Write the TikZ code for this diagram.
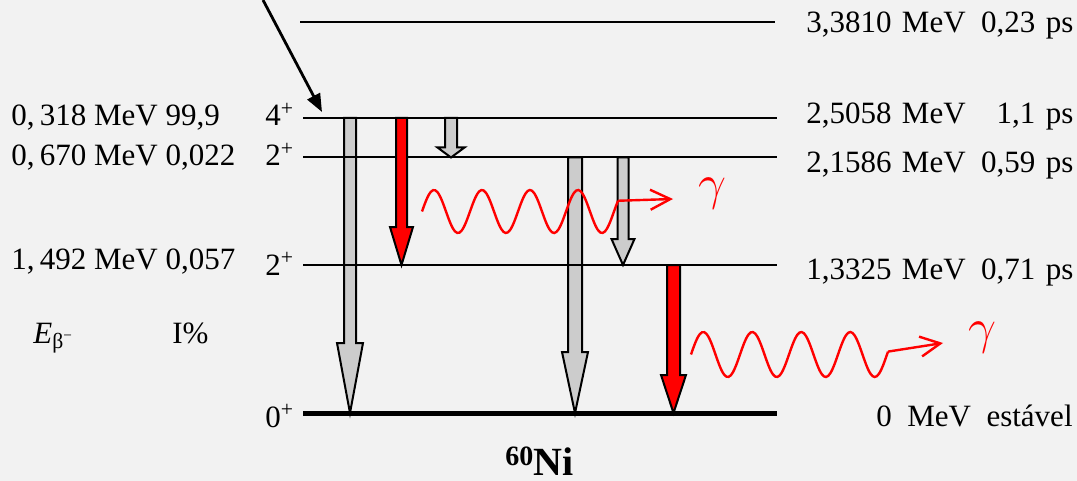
\documentclass[tikz,border=0pt]{standalone}
\usepackage{fontspec}
\setmainfont{Liberation Serif}
\usepackage{tikz}
\usetikzlibrary{arrows.meta, calc}
\definecolor{cBack}{RGB}{242,242,242}
\definecolor{cGrey}{RGB}{204,204,204}
\definecolor{cRed}{RGB}{255,0,0}
\tikzset{
	level/.style   ={line width=1pt},
	ground/.style  ={line width=2.5pt},
	transit/.style ={line width=1pt, line join=miter},
	wave/.style    ={cRed, line width=1.2pt},
	emit/.style    ={cRed, line width=1.2pt, -{Straight Barb[length=10pt, width=10pt]}},
	lbl/.style     ={anchor=base west, inner sep=0pt},
	gam/.style     ={cRed, inner sep=0pt, font=\fontsize{24}{26}\selectfont},
}
% block arrow: fill, top, bottom, shaft half width, head half width, head length
\newcommand{\decayarrow}[6]{%
	\filldraw[transit, fill=#1] let \p1=(#2), \p2=(#3) in
		(\x1-#4,\y1) -- (\x1-#4,\y2+#6) -- (\x1-#5,\y2+#6) -- (\x2,\y2)
		-- (\x1+#5,\y2+#6) -- (\x1+#4,\y2+#6) -- (\x1+#4,\y1) -- cycle;
}

\begin{document}
\begin{tikzpicture}[x=0.5pt, y=-0.5pt, font=\fontsize{15.5}{18}\selectfont]
	\fill[cBack] (0,0) rectangle (1077,481);
	\useasboundingbox (0,0) rectangle (1077,481);
	% arrow ends
	\coordinate (g1t) at (350,118);   \coordinate (g1b) at (350,413);
	\coordinate (g2t) at (575,157.5); \coordinate (g2b) at (575,413);
	\coordinate (g3t) at (451,118);   \coordinate (g3b) at (451,157.5);
	\coordinate (g4t) at (623,157.5); \coordinate (g4b) at (623,265);
	\coordinate (r1t) at (401.5,118); \coordinate (r1b) at (401.5,265);
	\coordinate (r2t) at (673.5,265); \coordinate (r2b) at (673.5,413);
	\decayarrow{cGrey}{g1t}{g1b}{3pt}{6.5pt}{35pt}
	\decayarrow{cGrey}{g2t}{g2b}{3.5pt}{6.5pt}{30.5pt}
	\decayarrow{cGrey}{g3t}{g3b}{3pt}{6.75pt}{5pt}
	\decayarrow{cGrey}{g4t}{g4b}{2.75pt}{5.75pt}{13pt}
	% levels
	\draw[level] (300,22) -- (775,22);
	\draw[level] (303,118) -- (777,118);
	\draw[level] (303,157.5) -- (777,157.5);
	\draw[level] (303,265) -- (777,265);
	\draw[ground] (303,413) -- (777,413);
	\decayarrow{cRed}{r1t}{r1b}{2.75pt}{5.75pt}{19pt}
	\decayarrow{cRed}{r2t}{r2b}{3.25pt}{6.25pt}{19pt}
	% feeding beta
	\coordinate (src) at (263,0);
	\coordinate (dst) at (322,112);
	\draw[line width=1.4pt, -{Triangle[length=9pt, width=7pt]}] (src) -- (dst);
	% gammas
	\draw[wave] plot[domain=0:196, samples=90, smooth] ({422+\x},{211.5-21.5*sin(7.5*\x)});
	\coordinate (w1end) at (618,200.75);
	\coordinate (w1tip) at (673,199);
	\draw[emit] (w1end) -- (w1tip);
	\node[gam] (gam1) at (712,194) {$\gamma$};
	\draw[wave] plot[domain=0:197, samples=90, smooth] ({691+\x},{354.5-22.5*sin(7.347*\x)});
	\coordinate (w2end) at (888,351.6);
	\coordinate (w2tip) at (943,343);
	\draw[emit] (w2end) -- (w2tip);
	\node[gam] (gam2) at (982,338) {$\gamma$};
	% beta branches
	\node[lbl] (b1) at (11,126) {0,\,318 MeV 99,9};
	\node[lbl] (b2) at (11,166) {0,\,670 MeV 0,022};
	\node[lbl] (b3) at (11,270) {1,\,492 MeV 0,057};
	\node[lbl] (eb) at (33,343) {\textit{E}\textsubscript{β\textsuperscript{−}}};
	\node[lbl] (ib) at (172,343) {I\%};
	% spins
	\node[lbl] (s4) at (265,126) {4\textsuperscript{+}};
	\node[lbl] (s2a) at (265,166) {2\textsuperscript{+}};
	\node[lbl] (s2b) at (265,275) {2\textsuperscript{+}};
	\node[lbl] (s0) at (265,427) {0\textsuperscript{+}};
	% energies and lifetimes
	\node[lbl, text width=133.5pt] (e4) at (806,33) {3,3810 MeV\hfill 0,23 ps};
	\node[lbl, text width=133.5pt] (e3) at (806,124) {2,5058 MeV\hfill 1,1 ps};
	\node[lbl, text width=133.5pt] (e2) at (806,172) {2,1586 MeV\hfill 0,59 ps};
	\node[lbl, text width=133.5pt] (e1) at (806,279) {1,3325 MeV\hfill 0,71 ps};
	\node[anchor=base east, inner sep=0pt] (e0) at (1073,426) {0\enspace MeV\enspace estável};
	\node[lbl] (ni) at (505,475) {\bfseries\raisebox{5pt}{\fontsize{14}{16}\selectfont 60}\fontsize{20}{24}\selectfont Ni};
\end{tikzpicture}
\end{document}
